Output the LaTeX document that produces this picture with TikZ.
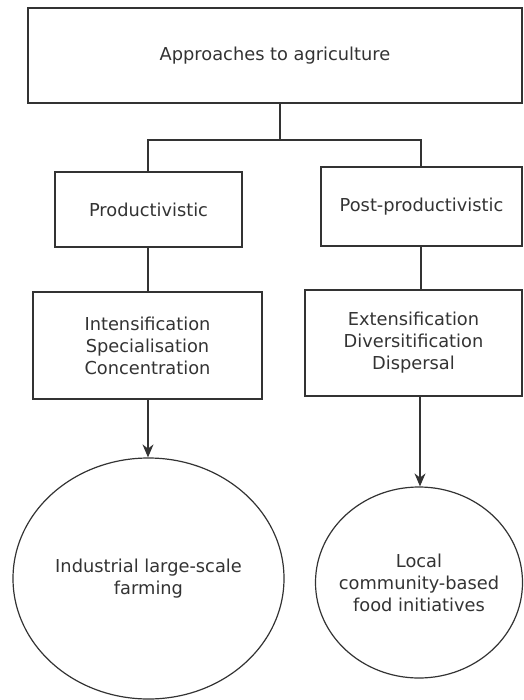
\documentclass[tikz,border=0pt]{standalone}
\usepackage{fontspec}
\setmainfont{DejaVu Sans}
\usetikzlibrary{shapes.geometric,arrows.meta}
\definecolor{edge}{HTML}{333333}
\definecolor{ink}{HTML}{333333}
\begin{document}
\begin{tikzpicture}[x=1pt,y=-1pt,
  every node/.style={text=ink,font=\fontsize{17.8}{22}\selectfont,align=center,inner sep=0pt},
  box/.style={draw=edge,line width=1.3pt,rectangle},
  blob/.style={draw=edge,line width=1.2pt,ellipse,inner xsep=-16pt},
  link/.style={draw=edge,line width=1.3pt},
  arrowlink/.style={link,-{Stealth[length=13pt,width=11pt]}}]
\useasboundingbox (0,0) rectangle (523,700);
% top level
\node[box,minimum width=494pt,minimum height=95pt] (top) at (275,55.5) {Approaches to agriculture};
% second level
\node[box,minimum width=187pt,minimum height=75pt] (prod) at (148.5,209.5) {Productivistic};
\node[box,minimum width=201pt,minimum height=79pt] (post) at (421.5,206.5) {Post-productivistic};
% third level
\node[box,minimum width=229pt,minimum height=107pt] (intens) at (147.5,345.5) {Intensification\\Specialisation\\Concentration};
\node[box,minimum width=217pt,minimum height=106pt] (extens) at (413.5,343) {Extensification\\Diversitification\\Dispersal};
% outcomes
\node[blob,minimum width=271pt,minimum height=241pt] (industrial) at (148.5,578.5) {Industrial large-scale\\farming};
\node[blob,minimum width=207pt,minimum height=191pt] (local) at (419,582.5) {Local\\community-based\\food initiatives};
% connectors
\coordinate (split) at (280,140);
\draw[link] (top.south -| split) -- (split);
\draw[link] (split) -- (148,140) -- (prod.north -| 148,0);
\draw[link] (split) -- (421,140) -- (post.north -| 421,0);
\draw[link] (prod.south -| 148,0) -- (intens.north -| 148,0);
\draw[link] (post.south -| 421,0) -- (extens.north -| 421,0);
\draw[arrowlink] (intens.south -| 148,0) -- (industrial.north -| 148,0);
\draw[arrowlink] (extens.south -| 420,0) -- (local.north -| 420,0);
\end{tikzpicture}
\end{document}
